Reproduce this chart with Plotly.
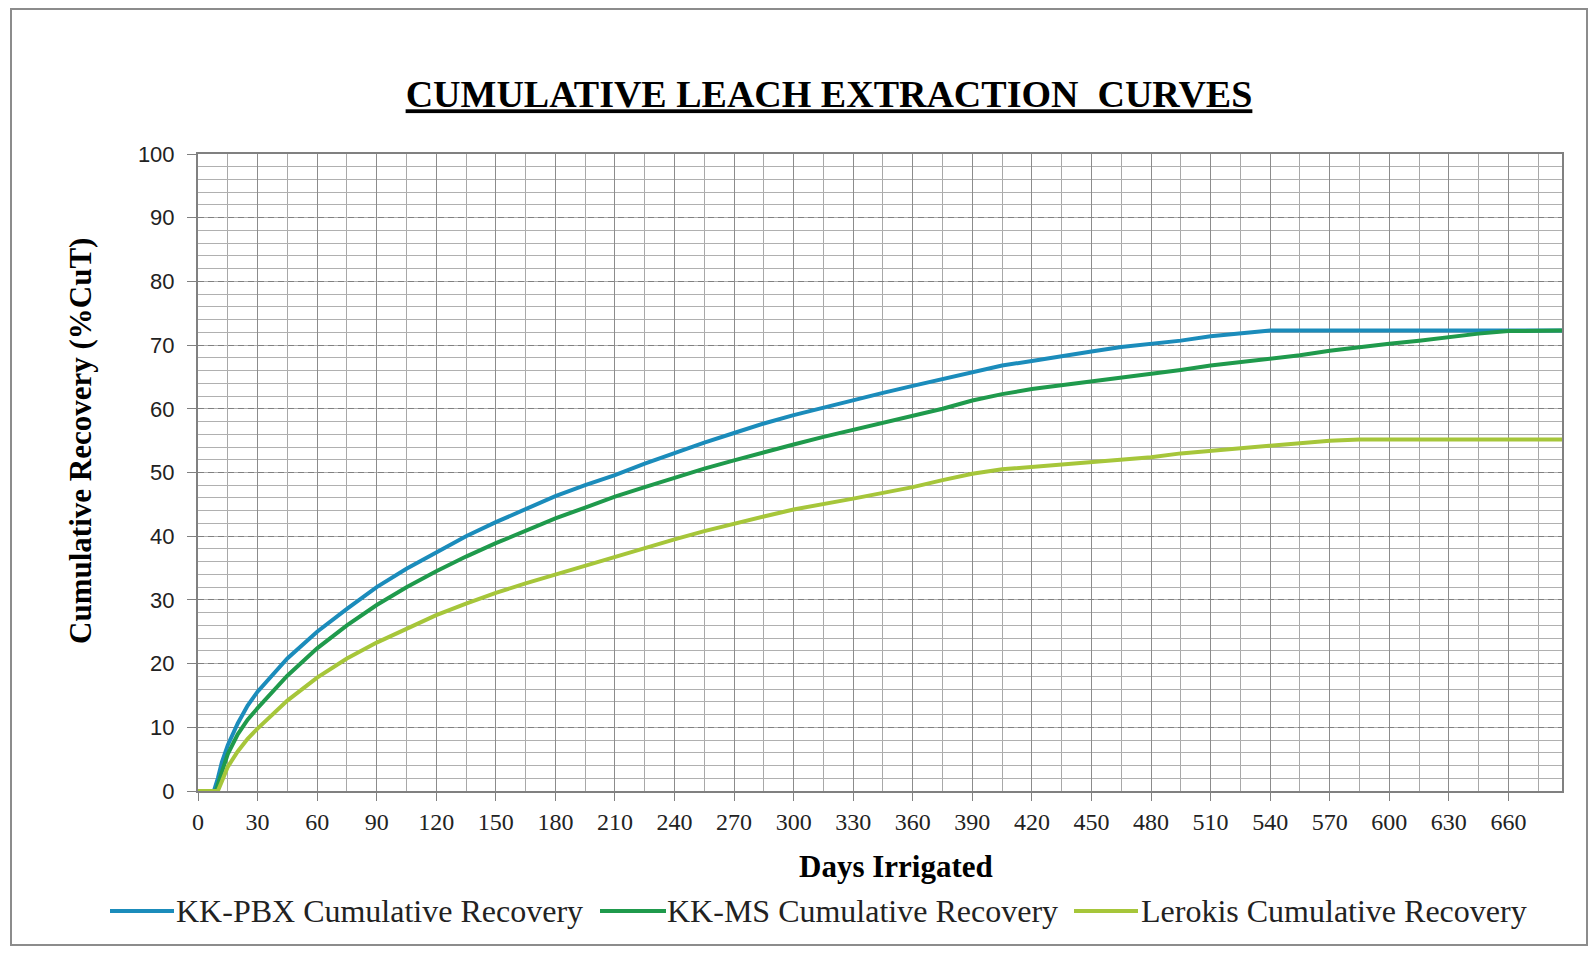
import plotly.graph_objects as go

# ---------------- data ----------------
pbx_days = [0, 8, 10, 12, 15, 20, 25, 30, 45, 60, 75, 90, 105, 120, 135, 150, 165, 180, 195,
            210, 225, 240, 255, 270, 285, 300, 315, 330, 345, 360, 375, 390, 405, 420, 435,
            450, 465, 480, 495, 510, 525, 540, 687]
pbx_vals = [0, 0, 2.0, 4.5, 7.2, 10.6, 13.4, 15.6, 20.8, 25.0, 28.6, 32.0, 34.9, 37.5, 40.0,
            42.2, 44.3, 46.3, 48.0, 49.6, 51.4, 53.1, 54.7, 56.2, 57.7, 59.0, 60.2, 61.3, 62.5,
            63.6, 64.7, 65.8, 66.8, 67.5, 68.3, 69.0, 69.7, 70.2, 70.7, 71.4, 71.9, 72.3, 72.3]

ms_days = [0, 9, 11, 13, 15, 20, 25, 30, 45, 60, 75, 90, 105, 120, 135, 150, 165, 180, 195,
           210, 225, 240, 255, 270, 285, 300, 315, 330, 345, 360, 375, 390, 405, 420, 435,
           450, 465, 480, 495, 510, 525, 540, 555, 570, 585, 600, 615, 630, 645, 660, 675, 687]
ms_vals = [0, 0, 2.0, 4.0, 5.8, 8.9, 11.2, 13.0, 18.1, 22.4, 26.0, 29.2, 32.0, 34.5, 36.8,
           38.9, 40.9, 42.8, 44.5, 46.2, 47.7, 49.2, 50.6, 51.9, 53.2, 54.4, 55.6, 56.7, 57.8,
           58.9, 60.0, 61.3, 62.3, 63.1, 63.7, 64.2, 64.9, 65.5, 66.1, 66.8, 67.3, 67.9, 68.4,
           69.1, 69.7, 70.2, 70.7, 71.3, 71.8, 72.2, 72.3, 72.3]

ler_days = [0, 10, 12, 15, 20, 25, 30, 45, 60, 75, 90, 105, 120, 135, 150, 165, 180, 195,
            210, 225, 240, 255, 270, 285, 300, 315, 330, 345, 360, 375, 390, 405, 420, 435,
            450, 465, 480, 495, 510, 525, 540, 555, 570, 585, 687]
ler_vals = [0, 0, 1.5, 3.8, 6.2, 8.2, 9.8, 14.2, 17.8, 20.8, 23.3, 25.5, 27.6, 29.4, 31.1,
            32.6, 34.0, 35.3, 36.8, 38.2, 39.5, 40.8, 42.0, 43.1, 44.2, 45.0, 45.9, 46.8, 47.7,
            48.8, 49.8, 50.5, 50.9, 51.3, 51.7, 52.0, 52.4, 53.0, 53.4, 53.9, 54.2, 54.6, 55.0,
            55.2, 55.2]

series_names = ["KK-PBX Cumulative Recovery", "KK-MS Cumulative Recovery",
                "Lerokis Cumulative Recovery"]
series_colors = ["#1b8cbb", "#1f9a4c", "#a6c63a"]

x_tickvals = list(range(0, 661, 30))
y_tickvals = list(range(0, 101, 10))

# ---------------- layout geometry ----------------
OFF = 8            # default body margin of the html page
W, H = 1580, 938
ML, MR, MT, MB = 190, 26, 146, 155
PW, PH = W - ML - MR, H - MT - MB


def px(xp):
    return (xp - OFF - ML) / PW


def py(yp):
    return (H - MB - (yp - OFF)) / PH


fig = go.Figure()
for d, v, c in zip([pbx_days, ms_days, ler_days], [pbx_vals, ms_vals, ler_vals], series_colors):
    fig.add_trace(go.Scatter(x=d, y=v, mode="lines", line=dict(color=c, width=4),
                             showlegend=False, hoverinfo="skip"))

serif = "Liberation Serif, Times New Roman, serif"

fig.update_layout(
    width=W, height=H,
    margin=dict(l=ML, r=MR, t=MT, b=MB),
    paper_bgcolor="white", plot_bgcolor="white",
    title=dict(text="<b><u>CUMULATIVE LEACH EXTRACTION  CURVES</u></b>",
               font=dict(family=serif, size=38, color="black"),
               xref="container", yref="container",
               x=(829 - OFF) / W, y=1 - (94 - OFF) / H,
               xanchor="center", yanchor="middle"),
    xaxis=dict(range=[0, 687], tickvals=x_tickvals, ticks="outside", ticklen=8,
               tickcolor="#808080", tickwidth=1,
               showline=True, mirror=True, linecolor="#808080", linewidth=2,
               showgrid=True, gridcolor="#8c8c8c", gridwidth=1,
               minor=dict(dtick=15, tick0=0, showgrid=True, gridcolor="#a8a8a8", gridwidth=1,
                          griddash="solid"),
               tickfont=dict(family=serif, size=24, color="#222"),
               ticklabelstandoff=0, zeroline=False, fixedrange=True),
    yaxis=dict(range=[0, 100], tickvals=y_tickvals, ticks="outside", ticklen=9,
               tickcolor="#808080", tickwidth=1,
               showline=True, mirror=True, linecolor="#808080", linewidth=2,
               showgrid=True, gridcolor="#808080", gridwidth=1, griddash="6px,4px",
               minor=dict(dtick=2, tick0=0, showgrid=True, gridcolor="#b0b0b0", gridwidth=1,
                          griddash="solid"),
               tickfont=dict(family="Liberation Sans, Arial, sans-serif", size=22, color="#222"),
               ticklabelstandoff=8, zeroline=False, fixedrange=True),
)

annotations = [
    dict(text="<b>Cumulative Recovery (%CuT)</b>", x=px(81), y=py(441), xref="paper", yref="paper",
         textangle=-90, showarrow=False, xanchor="center", yanchor="middle",
         font=dict(family=serif, size=31, color="black")),
    dict(text="<b>Days Irrigated</b>", x=px(896), y=py(866), xref="paper", yref="paper",
         showarrow=False, xanchor="center", yanchor="middle",
         font=dict(family=serif, size=31, color="black")),
]

# legend drawn underneath the chart
leg_y = 911
leg_line_x = [(110, 174), (600, 666), (1074, 1138)]
leg_text_x = [174, 665, 1139]
shapes = []
for (x0, x1), tx, name, c in zip(leg_line_x, leg_text_x, series_names, series_colors):
    shapes.append(dict(type="line", xref="paper", yref="paper", x0=px(x0), x1=px(x1),
                       y0=py(leg_y), y1=py(leg_y), line=dict(color=c, width=4)))
    annotations.append(dict(text=name, x=px(tx), y=py(leg_y), xref="paper", yref="paper",
                            showarrow=False, xanchor="left", yanchor="middle",
                            font=dict(family=serif, size=32, color="#222")))

# outer chart frame
shapes.append(dict(type="rect", xref="paper", yref="paper", x0=px(11), x1=px(1587),
                   y0=py(9), y1=py(945), line=dict(color="#8c8c8c", width=2), layer="below"))

fig.update_layout(annotations=annotations, shapes=shapes)

fig.write_html("out.html")
